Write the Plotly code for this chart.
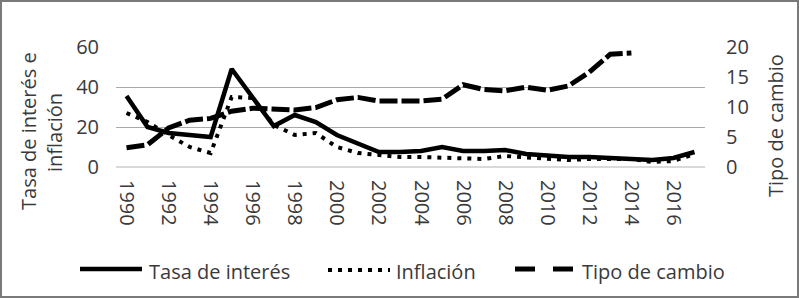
import plotly.graph_objects as go

years = list(range(1990, 2018))
tasa_interes = [35.5, 20, 17, 16, 15, 49, 35, 20.5, 26, 22.5, 16, 12, 7.5, 7.5, 8, 10,
                8, 8, 8.5, 6.5, 5.5, 5, 5, 4.5, 4, 3.5, 4.5, 7.5]
inflacion = [27, 22.5, 16, 10, 7, 35, 34.5, 21, 16, 17, 10, 7, 6, 5, 5, 4.5,
             4, 4, 5.5, 5, 4, 3.5, 4, 4, 4, 2.5, 3, 6.5]
tipo_cambio = [3.2, 3.7, 6.5, 7.8, 8.1, 9.3, 9.8, 9.6, 9.5, 9.9, 11.2, 11.6, 11.0, 11.0,
               11.0, 11.3, 13.7, 12.9, 12.7, 13.3, 12.8, 13.5, 15.8, 18.8, 19.0,
               None, None, None]
left_ticks = [0, 20, 40, 60]
right_ticks = [0, 5, 10, 15, 20]

FONT = "Open Sans"
TXT = "#3a3a3a"
W, H = 799, 298
L, R, T, B = 116, 94, 47, 131
PW, PH = W - L - R, H - T - B


def px(x):
    return (x - L) / PW


def py(y):
    return (H - B - y) / PH


fig = go.Figure()
fig.add_trace(go.Scatter(x=years, y=tasa_interes, mode="lines", name="Tasa de interés",
                         line=dict(color="black", width=4.5), showlegend=False))
fig.add_trace(go.Scatter(x=years, y=inflacion, mode="lines", name="Inflación",
                         line=dict(color="black", width=4, dash="4px,6px"), showlegend=False))
fig.add_trace(go.Scatter(x=years, y=tipo_cambio, mode="lines", name="Tipo de cambio",
                         line=dict(color="black", width=5, dash="18px,4px"),
                         yaxis="y2", showlegend=False))

fig.update_layout(
    width=W, height=H,
    margin=dict(l=L, r=R, t=T, b=B, pad=0),
    paper_bgcolor="white", plot_bgcolor="white",
    font=dict(family=FONT, size=20, color=TXT),
    xaxis=dict(range=[1989.5, 2017.5], tickmode="linear", tick0=1990, dtick=2,
               tickangle=90, showgrid=False, zeroline=False, showline=False,
               ticks="", ticklabelstandoff=12,
               tickfont=dict(family=FONT, size=20, color=TXT)),
    yaxis=dict(range=[0, 60], tickvals=left_ticks, showgrid=True, gridcolor="#a9a9a9",
               gridwidth=1.2, zeroline=True, zerolinecolor="#d9d9d9", zerolinewidth=1.5,
               ticks="", ticklabelstandoff=16,
               tickfont=dict(family=FONT, size=20, color=TXT)),
    yaxis2=dict(range=[0, 20], tickvals=right_ticks, overlaying="y", side="right",
                showgrid=False, zeroline=False, ticks="", ticklabelstandoff=20,
                tickfont=dict(family=FONT, size=20, color=TXT)),
)

annotations = [
    dict(text="Tasa de interés e", x=px(28), y=py(131), textangle=-90),
    dict(text="inflación", x=px(54), y=py(133), textangle=-90),
    dict(text="Tipo de cambio", x=px(775), y=py(126), textangle=-90),
    dict(text="Tasa de interés", x=px(147), y=py(271), xanchor="left"),
    dict(text="Inflación", x=px(394), y=py(271), xanchor="left"),
    dict(text="Tipo de cambio", x=px(580), y=py(271), xanchor="left"),
]
for a in annotations:
    a.update(xref="paper", yref="paper", showarrow=False,
             font=dict(family=FONT, size=20, color=TXT))
    a.setdefault("xanchor", "center")
    a.setdefault("yanchor", "middle")
fig.update_layout(annotations=annotations)

shapes = [
    dict(type="line", x0=px(80), x1=px(142), y0=py(269), y1=py(269),
         line=dict(color="black", width=4.5)),
    dict(type="line", x0=px(328), x1=px(390), y0=py(270), y1=py(270),
         line=dict(color="black", width=4, dash="4px,6px")),
    dict(type="line", x0=px(515), x1=px(575), y0=py(269), y1=py(269),
         line=dict(color="black", width=5, dash="20px,18px")),
    dict(type="rect", x0=px(1), x1=px(798), y0=py(1), y1=py(297),
         line=dict(color="#7a7a7a", width=2)),
]
for s in shapes:
    s.update(xref="paper", yref="paper")
fig.update_layout(shapes=shapes)

fig.write_html("out.html", config={"displayModeBar": False},
               post_script="document.body.style.margin='0';document.body.style.overflow='hidden';")
